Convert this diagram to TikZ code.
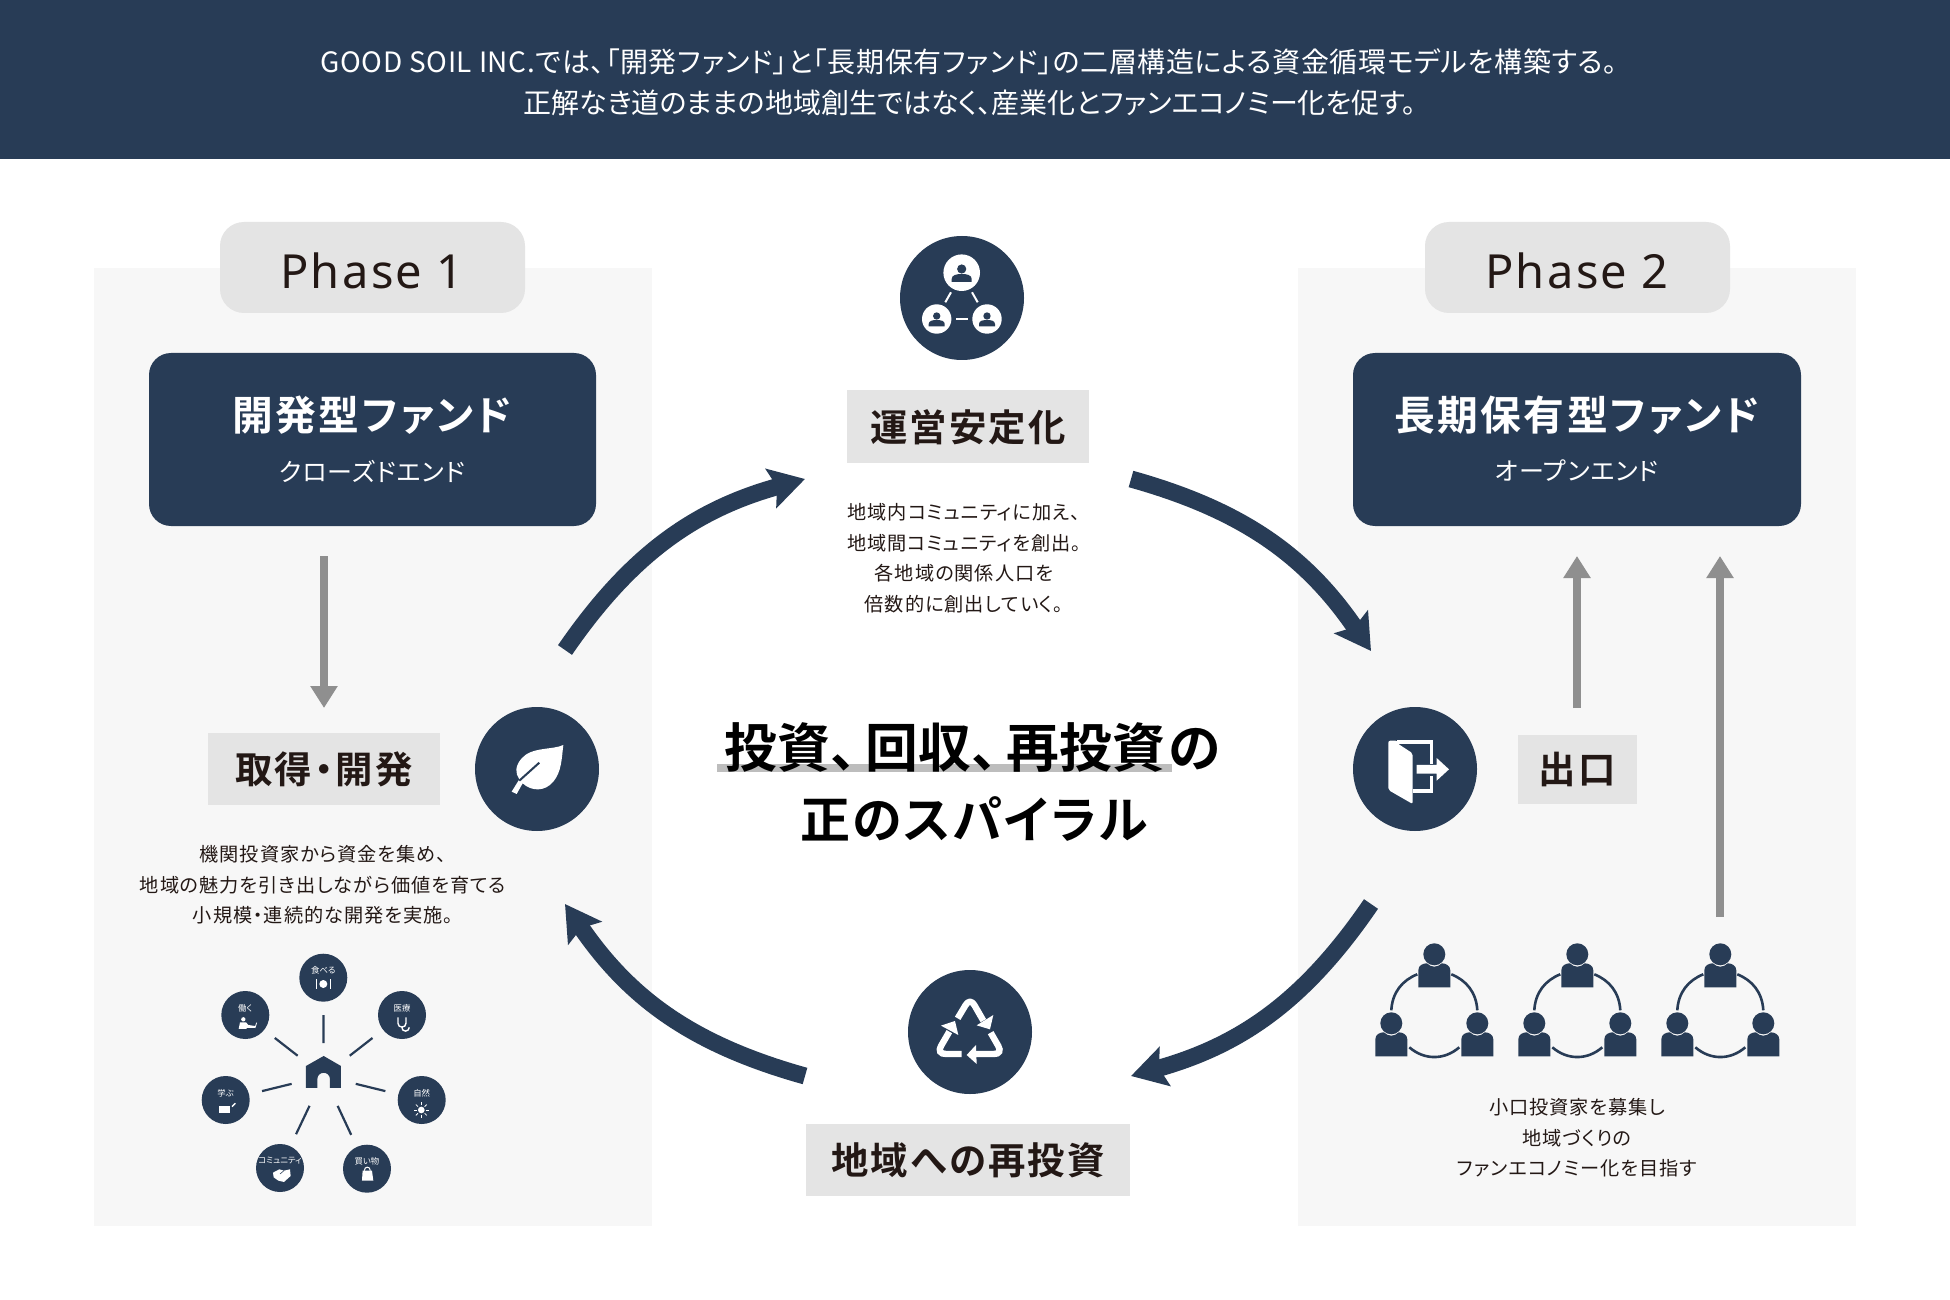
\documentclass[tikz,border=0pt]{standalone}
\usepackage{fontspec}
\usetikzlibrary{arrows.meta}
\setmainfont{Noto Sans CJK JP}
\newfontfamily\jpreg[RawFeature={+palt}]{Noto Sans CJK JP}
\newfontfamily\jphead[RawFeature={+palt},LetterSpace=2.3]{Noto Sans CJK JP}
\newfontfamily\jpsmall[RawFeature={+palt},LetterSpace=5]{Noto Sans CJK JP}
\newfontfamily\jpsub[RawFeature={+palt},LetterSpace=4]{Noto Sans CJK JP}
\newfontfamily\jpbold[RawFeature={+palt},LetterSpace=6]{Noto Sans CJK JP Bold}
\newfontfamily\jpblack[RawFeature={+palt},LetterSpace=4]{Noto Sans CJK JP Bold}
\newfontfamily\jpfull{Noto Sans CJK JP Bold}
\newfontfamily\latin[LetterSpace=5]{Noto Sans}
\definecolor{navy}{HTML}{283C56}
\definecolor{panel}{HTML}{F7F7F7}
\definecolor{tabgray}{HTML}{E4E4E4}
\definecolor{arrowgray}{HTML}{8F8F8F}
\definecolor{ink}{HTML}{231815}
\definecolor{hl}{HTML}{BDBDBD}
\tikzset{
  x=0.5pt,y=-0.5pt,
  panelbox/.style={fill=panel,draw=none},
  tabbox/.style={fill=tabgray,rounded corners=12pt,draw=none},
  fundbox/.style={fill=navy,rounded corners=11pt,draw=none},
  tagbox/.style={fill=tabgray,draw=none,inner sep=0pt,text=ink,font=\jpbold\fontsize{18.7}{19}\selectfont},
  disc/.style={circle,fill=navy,draw=none,minimum size=62pt,inner sep=0pt},
  mini/.style={circle,fill=navy,draw=none,minimum size=24pt,inner sep=0pt},
  minitxt/.style={text=white,inner sep=0pt,font=\jpreg\fontsize{4.2}{4.2}\selectfont},
  small/.style={text=ink,inner sep=0pt,font=\jpsmall\fontsize{9.6}{9.6}\selectfont},
  bigarrow/.style={draw=navy,line width=8.5pt,-{Stealth[length=17.5pt,width=20pt,inset=3pt]}},
  grayarrow/.style={draw=arrowgray,line width=4.3pt,-{Triangle[length=11pt,width=13pt]}},
  spoke/.style={draw=navy,line width=1.1pt,shorten <=16.5pt,shorten >=6.5pt},
  wline/.style={draw=white,line width=1pt},
}
\newcommand{\bust}[3]{% centre x, head y, scale
  \begin{scope}[shift={(#1,#2)},scale=#3]
    \fill[navy] (0,0) circle[radius=11];
    \fill[navy] (-16,33) -- (-16,16) .. controls (-16,11) and (-11,9) .. (-7.5,9)
      .. controls (-3,13.5) and (3,13.5) .. (7.5,9) .. controls (11,9) and (16,11) .. (16,16) -- (16,33) -- cycle;
  \end{scope}}
\newcommand{\groupicon}[1]{%
  \begin{scope}[shift={(#1,954.3)}]
    \bust{0}{0}{1}\bust{-43}{69}{1}\bust{43}{69}{1}
    \draw[navy,line width=1.3pt] (-17,20) .. controls (-32,26) and (-42,38) .. (-43,56);
    \draw[navy,line width=1.3pt] (17,20) .. controls (32,26) and (42,38) .. (43,56);
    \draw[navy,line width=1.3pt] (-25,93) .. controls (-10,106) and (10,106) .. (25,93);
  \end{scope}}
\newcommand{\minibust}[3]{%
  \begin{scope}[shift={(#1,#2)},scale=#3]
    \fill[navy] (0,-5) circle[radius=4.6];
    \fill[navy] (-10,8) -- (-10,5) .. controls (-10,1) and (-5,0) .. (0,0) .. controls (5,0) and (10,1) .. (10,5) -- (10,8) -- cycle;
  \end{scope}}
\begin{document}
\begin{tikzpicture}
\useasboundingbox (0,0) rectangle (1950,1300);
\fill[white] (0,0) rectangle (1950,1300);
\fill[navy] (0,0) rectangle (1950,159);
\node[text=white,inner sep=0pt,font=\jphead\fontsize{14}{14}\selectfont] (h1) at (969,62) {GOOD SOIL INC.では、「開発ファンド」と「長期保有ファンド」の二層構造による資金循環モデルを構築する。};
\node[text=white,inner sep=0pt,font=\jpreg\fontsize{14}{14}\selectfont] (h2) at (970,103) {正解なき道のままの地域創生ではなく、産業化とファンエコノミー化を促す。};
% panels
\fill[panelbox] (94,268) rectangle (652,1226);
\fill[panelbox] (1298,268) rectangle (1856,1226);
\fill[tabbox] (220,222) rectangle (525,313);
\fill[tabbox] (1425,222) rectangle (1730,313);
\node[text=ink,inner sep=0pt,font=\latin\fontsize{23.5}{24}\selectfont] (p1) at (372,271) {Phase 1};
\node[text=ink,inner sep=0pt,font=\latin\fontsize{23.5}{24}\selectfont] (p2) at (1577,271) {Phase 2};
% fund boxes
\fill[fundbox] (149,353) rectangle (596,526);
\fill[fundbox] (1353,353) rectangle (1801,526);
\node[text=white,inner sep=0pt,font=\jpbold\fontsize{20.4}{20}\selectfont] (f1) at (372,415) {開発型ファンド};
\node[text=white,inner sep=0pt,font=\jpsub\fontsize{12.5}{12.5}\selectfont] (f1s) at (372,471) {クローズドエンド};
\node[text=white,inner sep=0pt,font=\jpbold\fontsize{20.4}{20}\selectfont] (f2) at (1577,415) {長期保有型ファンド};
\node[text=white,inner sep=0pt,font=\jpsub\fontsize{12.5}{12.5}\selectfont] (f2s) at (1577,471) {オープンエンド};
% gray arrows
\coordinate (g1a) at (324,556); \coordinate (g1b) at (324,708);
\coordinate (g2a) at (1577,708); \coordinate (g2b) at (1577,556);
\coordinate (g3a) at (1720,917); \coordinate (g3b) at (1720,556);
\draw[grayarrow] (g1a) -- (g1b);
\draw[grayarrow] (g2a) -- (g2b);
\draw[grayarrow] (g3a) -- (g3b);
% big arrows
\coordinate (a1s) at (565,650); \coordinate (a1e) at (805,479);
\coordinate (a2s) at (1131,479); \coordinate (a2e) at (1371,651);
\coordinate (a3s) at (1371,904); \coordinate (a3e) at (1131,1076);
\coordinate (a4s) at (805,1076); \coordinate (a4e) at (565,904);
\draw[bigarrow] (a1s) to[bend left=20] (a1e);
\draw[bigarrow] (a2s) to[bend left=20] (a2e);
\draw[bigarrow] (a3s) to[bend left=20] (a3e);
\draw[bigarrow] (a4s) to[bend left=20] (a4e);
% tags
\fill[tabgray] (847,390) rectangle (1089,463);
\fill[tabgray] (208,733) rectangle (440,805);
\fill[tabgray] (1518,735) rectangle (1637,804);
\fill[tabgray] (806,1124) rectangle (1130,1196);
\node[tagbox,fill=none] (t1) at (968,427) {運営安定化};
\node[tagbox,fill=none] (t2) at (324,769) {取得・開発};
\node[tagbox,fill=none] (t3) at (1577,769) {出口};
\node[tagbox,fill=none] (t4) at (968,1160) {地域への再投資};
% small text
\node[small] at (964,512) {地域内コミュニティに加え、};
\node[small] at (964,543) {地域間コミュニティを創出。};
\node[small] at (964,573) {各地域の関係人口を};
\node[small] at (964,604) {倍数的に創出していく。};
\node[small] at (323,854) {機関投資家から資金を集め、};
\node[small] at (323,885) {地域の魅力を引き出しながら価値を育てる};
\node[small] at (323,915) {小規模・連続的な開発を実施。};
\node[small] at (1577,1107) {小口投資家を募集し};
\node[small] at (1577,1138) {地域づくりの};
\node[small] at (1577,1168) {ファンエコノミー化を目指す};
% centre title
\fill[hl] (717,764) rectangle (1172,772);
\node[text=black,inner sep=0pt,font=\jpfull\fontsize{26.4}{26.4}\selectfont] (c1) at (973,748) {投資、\kern-8.7pt 回収、\kern-8.7pt 再投資\kern2pt の};
\node[text=black,inner sep=0pt,font=\jpblack\fontsize{25}{25}\selectfont] (c2) at (974,819) {正のスパイラル};
% discs
\node[disc] (dTop) at (962,298) {};
\node[disc] (dLeaf) at (537,769) {};
\node[disc] (dDoor) at (1415,769) {};
\node[disc] (dRec) at (970,1032) {};
% community icon
\fill[white] (961.7,272.7) circle[radius=18.3];
\fill[white] (936.7,319) circle[radius=14.7];
\fill[white] (987,319) circle[radius=14.7];
\minibust{961.7}{274}{1.0}
\minibust{936.7}{320}{0.8}
\minibust{987}{320}{0.8}
\draw[wline] (945.3,302.3) -- (951,292.3);
\draw[wline] (977.7,302.3) -- (972,292.3);
\draw[wline] (956.3,319) -- (968.3,319);
% leaf
\begin{scope}[shift={(460,690)},scale=0.3333]
  \fill[white] (310,165) .. controls (280,180) and (215,170) .. (185,205)
     .. controls (165,228) and (165,250) .. (178,268) -- (155,305) -- (170,312) -- (188,280)
     .. controls (215,305) and (255,305) .. (280,275) .. controls (305,245) and (305,205) .. (310,165) -- cycle;
  \draw[navy,line width=1pt] (178,272) -- (238,218);
\end{scope}
% door
\begin{scope}[shift={(1340,690)},scale=0.3333]
  \fill[white,rounded corners=1pt] (145,152) -- (145,300) -- (218,342) -- (218,190) -- (172,160) -- (172,152) -- cycle;
  \draw[white,line width=1.6pt] (172,156) -- (275,156) -- (275,222);
  \draw[white,line width=1.6pt] (218,303) -- (275,303) -- (275,257);
  \fill[white] (230,225) -- (290,225) -- (290,204) -- (327,238) -- (290,272) -- (290,251) -- (230,251) -- cycle;
\end{scope}
% recycle
\begin{scope}[shift={(880,950)},scale=0.3333]
  \draw[white,line width=3.2pt,line join=round] (233,205) -- (257,165) .. controls (265,152) and (275,152) .. (283,165) -- (310,212);
  \fill[white] (340,195) -- (330,238) -- (290,226) -- cycle;
  \draw[white,line width=3.2pt] (245,312) -- (198,312) .. controls (180,312) and (175,302) .. (183,288) -- (208,245);
  \fill[white] (183,227) -- (225,213) -- (235,255) -- cycle;
  \draw[white,line width=3.2pt] (332,248) -- (355,288) .. controls (363,302) and (358,312) .. (342,312) -- (285,312);
  \fill[white] (260,315) -- (288,285) -- (290,342) -- cycle;
\end{scope}
% wheel
\coordinate (hub) at (323.7,1076);
\node[mini] (m1) at (323.3,977.7) {};
\node[mini] (m2) at (402,1015) {};
\node[mini] (m3) at (421.7,1100) {};
\node[mini] (m4) at (367,1168.7) {};
\node[mini] (m5) at (280,1168) {};
\node[mini] (m6) at (225.7,1100) {};
\node[mini] (m7) at (245.3,1015) {};
\foreach \n in {m1,m2,m3,m4,m5,m6,m7} \draw[spoke] (hub) -- (\n);
\begin{scope}[shift={(180,940)},scale=0.3333]
  \fill[navy] (378,378) -- (431,348) -- (483,378) -- (483,444) -- (450,444) -- (450,418)
     .. controls (450,392) and (412,392) .. (412,418) -- (412,444) -- (378,444) -- cycle;
  % fork plate
  \fill[white] (430,132) circle[radius=12];
  \draw[white,line width=0.8pt] (409,118) -- (409,147);
  \draw[white,line width=0.8pt] (451,118) -- (451,147);
  % stethoscope
  \draw[white,line width=0.7pt] (654,232) -- (654,250) .. controls (654,265) and (678,265) .. (678,250) -- (678,232);
  \draw[white,line width=0.7pt] (666,260) .. controls (666,280) and (688,275) .. (688,262);
  % sun
  \fill[white] (724,510) circle[radius=10];
  \foreach \a in {0,45,...,315} \draw[white,line width=0.4pt] (724,510) ++(\a:14) -- ++(\a:9);
  % bag
  \fill[white] (548,692) -- (576,692) -- (580,722) -- (546,722) -- cycle;
  \draw[white,line width=0.5pt] (553,692) .. controls (553,678) and (571,678) .. (571,692);
  % handshake
  \fill[white] (279,698) -- (298,688) -- (312,692) -- (330,688) -- (332,708) -- (312,726) -- (295,722) -- (281,712) -- cycle;
  \draw[navy,line width=0.3pt] (300,702) -- (312,692);
  % book
  \fill[white] (117,497) rectangle (150,518);
  \draw[white,line width=0.7pt] (156,500) -- (166,490);
  % worker
  \fill[white] (190,238) circle[radius=6.5];
  \fill[white] (176,267) -- (180,247) -- (198,247) -- (205,255) -- (225,258) -- (225,264) -- (200,264) -- (200,267) -- cycle;
  \draw[white,line width=0.4pt] (225,264) -- (230,248);
\end{scope}
\node[minitxt] at (323.3,970.5) {食べる};
\node[minitxt] at (402,1008.5) {医療};
\node[minitxt] at (421.7,1093) {自然};
\node[minitxt] at (367,1161.5) {買い物};
\node[minitxt] at (280,1161) {コミュニティ};
\node[minitxt] at (225.7,1093) {学ぶ};
\node[minitxt] at (245.3,1008.5) {働く};
% groups
\groupicon{1434.3}
\groupicon{1577.3}
\groupicon{1720.3}
\end{tikzpicture}
\end{document}
